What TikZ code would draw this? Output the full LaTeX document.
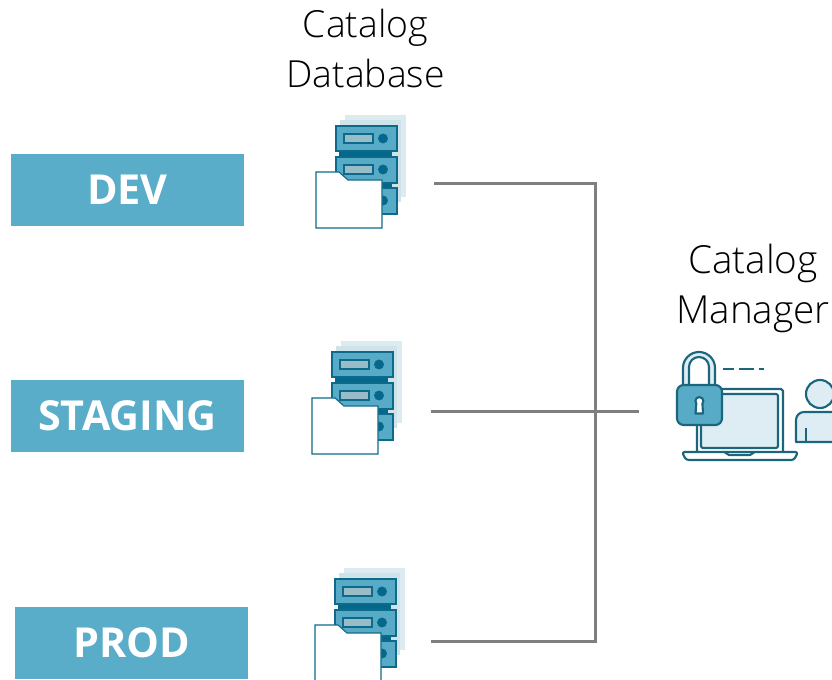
\documentclass[tikz,border=0pt]{standalone}
\usepackage{fontspec}
\setmainfont{Open Sans}
\newfontfamily\lightface{Open Sans Light}
\definecolor{boxblue}{HTML}{59ADC8}
\definecolor{iconfill}{HTML}{58ABC6}
\definecolor{iconline}{HTML}{0E6A8A}
\definecolor{iconband}{HTML}{04688C}
\definecolor{slotfill}{HTML}{98BDC8}
\definecolor{sheetone}{HTML}{DCEBEF}
\definecolor{sheettwo}{HTML}{CFE3EA}
\definecolor{lightfill}{HTML}{DEEDF4}
\definecolor{lineicon}{HTML}{1B667D}
\definecolor{connector}{HTML}{7F7F7F}
\tikzset{
  x=0.75pt,y=-0.75pt,
  envbox/.style={fill=boxblue,draw=none,minimum width=174.75pt,minimum height=54pt,inner sep=0pt,
    text=white,font=\fontsize{31}{36}\selectfont\bfseries},
  caption/.style={align=center,inner sep=0pt,font=\lightface\fontsize{28}{37.5}\selectfont},
  bigcaption/.style={caption,font=\lightface\fontsize{29}{37.5}\selectfont},
  link/.style={draw=connector,line width=2.3pt},
  slab/.style={fill=iconfill,draw=iconline,line width=1.3pt},
  mgr/.style={draw=lineicon,line width=1.6pt,line join=round},
  pics/dbicon/.style={code={
    \fill[sheetone] (29,-57) rectangle (90,25);
    \fill[sheettwo] (24,-52) rectangle (85,30);
    \fill[iconband] (23,-21) rectangle (76,-15.5);
    \fill[iconband] (23,11) rectangle (76,16);
    \draw[slab] (20,-46) rectangle (81,-21);
    \draw[slab] (20,-15) rectangle (81,11);
    \draw[slab] (20,16) rectangle (81,42);
    \foreach \yy in {-38,-7,24}{
      \draw[fill=slotfill,draw=iconline,line width=1.2pt] (28,\yy) rectangle (57,\yy+9);
      \draw[fill=iconband,draw=iconline,line width=0.5pt] (67,\yy+4.5) circle (4.6);
    }
    \draw[fill=white,draw=iconline,line width=0.85pt] (0,0) -- (23,0) -- (32,8) -- (66,8) -- (66,56) -- (0,56) -- cycle;
  }}
}
\begin{document}
\begin{tikzpicture}
\useasboundingbox (0,0) rectangle (832,680);
\node[envbox] (dev) at (127.5,190) {DEV};
\node[envbox] (staging) at (127.5,416) {STAGING};
\node[envbox] (prod) at (131.5,643) {PROD};
\node[caption] (dbcap) at (365.5,49) {Catalog\\Database};
\node[bigcaption] (mgrcap) at (753,288.5) {Catalog\\Manager};
\pic at (316,172) {dbicon};
\pic at (312,398) {dbicon};
\pic at (315,625) {dbicon};
% manager icon
\draw[mgr,fill=lightfill] (683,388) -- (683,368) arc[start angle=180,end angle=360,radius=16] -- (715,388) -- (709,388) -- (709,367) arc[start angle=360,end angle=180,radius=10] -- (689,388) -- cycle;
\draw[mgr,fill=white] (697,452) -- (697,391) -- ++(2,-2) -- (781,389) -- ++(2,2) -- (783,452);
\draw[mgr,fill=lightfill,rounded corners=1.5pt] (701,394) rectangle (778,448);
\draw[mgr,fill=white,rounded corners=2pt] (682,452) -- (798,452) -- (794,460) -- (686,460) -- cycle;
\draw[mgr] (725,452.5) -- (729,455) -- (750,455) -- (754,452.5);
\draw[mgr,fill=iconfill,rounded corners=5pt] (677,385) rectangle (722,425);
\draw[mgr,fill=white] (696.3,403.6) arc[start angle=140,end angle=400,radius=4] -- (703,413.5) -- (695.5,413.5) -- cycle;
\draw[mgr] (723,369) -- (734,369) (739,369) -- (754,369) (759,369) -- (764,369);
\draw[mgr,fill=lightfill] (820,394) circle (14);
\draw[mgr,fill=lightfill] (836,412) -- (804,412) arc[start angle=270,end angle=180,radius=8] -- (796,442) -- (836,442);
\draw[mgr] (806,428) -- (806,442);
% connectors
\coordinate (devout) at (434,183.5);
\coordinate (stagingout) at (431,411.5);
\coordinate (prodout) at (431,641.5);
\coordinate (mgrin) at (639,411.5);
\coordinate (busup) at (595.5,183.5);
\coordinate (busdown) at (595.5,641.5);
\draw[link] (devout) -- (busup) -- (busdown) -- (prodout);
\draw[link] (stagingout) -- (mgrin);
\end{tikzpicture}
\end{document}
